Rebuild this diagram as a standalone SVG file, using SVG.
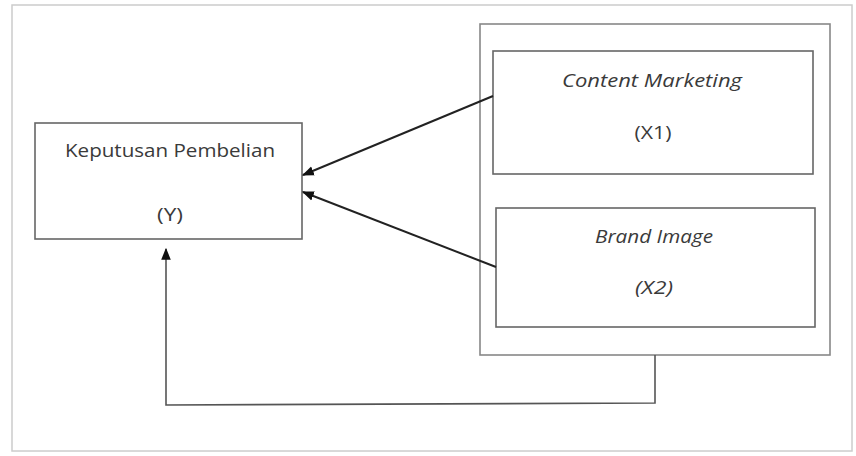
<svg xmlns="http://www.w3.org/2000/svg" width="856" height="456" viewBox="0 0 856 456">
<style>
.box{fill:#fff;stroke:#666;stroke-width:1.6}
.grp{fill:#fff;stroke:#888;stroke-width:1.6}
.t{font-family:"Open Sans","Liberation Sans",sans-serif;font-size:18px;fill:#3a3a3a;text-anchor:middle}
.i{font-style:italic}
.c{fill:none;stroke:#222;stroke-width:2}
.c2{fill:none;stroke:#555;stroke-width:1.6}
</style>
<defs>
<marker id="ah2" viewBox="0 0 10 10" refX="9" refY="5" markerWidth="12" markerHeight="12" orient="auto" markerUnits="userSpaceOnUse">
<path d="M0,1 L10,5 L0,9 z" fill="#111"/>
</marker>
</defs>
<rect x="12" y="5" width="840" height="446" fill="#fff" stroke="#ccc" stroke-width="1.5"/>
<g id="group">
<rect class="grp" x="480" y="24" width="350" height="331"/>
</g>
<g id="Y">
<rect class="box" x="35" y="123" width="267" height="116"/>
<text class="t" x="170" y="157" textLength="210" lengthAdjust="spacingAndGlyphs">Keputusan Pembelian</text>
<text class="t" x="170" y="221" textLength="26" lengthAdjust="spacingAndGlyphs">(Y)</text>
</g>
<g id="X1">
<rect class="box" x="493" y="51" width="320" height="123"/>
<text class="t i" x="652" y="87" textLength="180" lengthAdjust="spacingAndGlyphs">Content Marketing</text>
<text class="t" x="653" y="139" textLength="37" lengthAdjust="spacingAndGlyphs">(X1)</text>
</g>
<g id="X2">
<rect class="box" x="496" y="208" width="319" height="119"/>
<text class="t i" x="654" y="243" textLength="118" lengthAdjust="spacingAndGlyphs">Brand Image</text>
<text class="t i" x="654" y="294" textLength="38" lengthAdjust="spacingAndGlyphs">(X2)</text>
</g>
<g id="connectors">
<line class="c" x1="493" y1="96" x2="303" y2="175" marker-end="url(#ah2)"/>
<line class="c" x1="496" y1="267" x2="303" y2="192" marker-end="url(#ah2)"/>
<polyline class="c2" points="655,355 655,403 166,405 166,249" marker-end="url(#ah2)"/>
</g>
</svg>
